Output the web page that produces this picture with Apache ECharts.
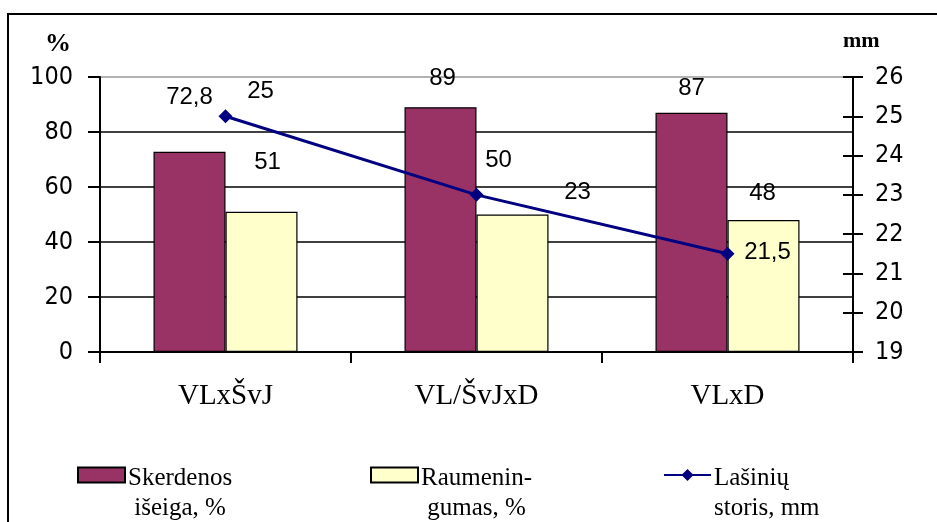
<!DOCTYPE html>
<html>
<head>
<meta charset="utf-8">
<script src="https://cdn.jsdelivr.net/npm/echarts@6/dist/echarts.min.js"></script>
<style>html,body{margin:0;padding:0;background:#fff;}#c{width:937px;height:522px;}</style>
</head>
<body>
<div id="c"></div>
<script>
const categories = ['VLxŠvJ', 'VL/ŠvJxD', 'VLxD'];
const skerdenos = [72.8, 89, 87];
const raumeningumas = [51, 50, 48];
const lasiniu = [25, 23, 21.5];
const seriesNames = ['Skerdenos\nišeiga, %', 'Raumenin-\ngumas, %', 'Lašinių\nstoris, mm'];
const leftTicks = { min: 0, max: 100, interval: 20 };
const rightTicks = { min: 19, max: 26, interval: 1 };

// label placement (pixel offsets), kept apart from data
const offSk = [[0, -37], [2, -12], [0, -7]];
const offRa = [[6, -32], [-14, -37], [-1, -10]];
const offLa = [[35, -25], [101, -2], [40, -1]];

const fmt = v => String(v).replace('.', ',');
const labelFont = { fontFamily: 'Liberation Sans, Arial, sans-serif', fontSize: 24, color: '#000' };
const axisFont = { fontFamily: 'DejaVu Sans Condensed, DejaVu Sans, sans-serif', fontSize: 25, color: '#000' };
const legendFont = { fontFamily: 'Liberation Serif, Times New Roman, serif', fontSize: 25, color: '#000', lineHeight: 30 };

const chart = echarts.init(document.getElementById('c'));
const gridColors = ['#000', '#000', '#000', '#000', '#000', '#999'];

const legendLeft = [72, 365, 658];
const legendCentered = [true, true, false];

chart.setOption({
  backgroundColor: '#fff',
  animation: false,
  grid: { left: 100, right: 84, top: 77, bottom: 170 },
  graphic: [
    { type: 'rect', shape: { x: 8, y: 14, width: 1000, height: 600 }, style: { fill: 'none', stroke: '#000', lineWidth: 2 } },
    { type: 'text', left: 45, top: 31, style: { text: '%', font: 'bold 26px "Liberation Serif", serif', fill: '#000' } },
    { type: 'text', left: 843, top: 30, style: { text: 'mm', font: 'bold 22px "Liberation Serif", serif', fill: '#000' } }
  ],
  legend: [0, 1, 2].map((i) => ({
    data: [{ name: seriesNames[i], icon: i < 2 ? 'rect' : undefined }],
    left: legendLeft[i],
    top: 422,
    itemWidth: 47,
    itemHeight: 15,
    selectedMode: false,
    formatter: legendCentered[i] ? (n => n.split('\n').map(s => '{c|' + s + '}').join('\n')) : (n => n),
    textStyle: Object.assign({
      padding: [36, 0, 0, -2],
      rich: { c: Object.assign({ align: 'center' }, legendFont) }
    }, legendFont)
  })),
  xAxis: {
    type: 'category',
    data: categories,
    axisLine: { lineStyle: { color: '#000', width: 2 } },
    axisTick: { show: true, length: 11, lineStyle: { color: '#000', width: 2 } },
    axisLabel: { margin: 30, fontFamily: 'Liberation Serif, Times New Roman, serif', fontSize: 29, color: '#000' },
    splitLine: { show: false }
  },
  yAxis: [
    {
      type: 'value', min: leftTicks.min, max: leftTicks.max, interval: leftTicks.interval, position: 'left',
      axisLine: { show: true, lineStyle: { color: '#000', width: 2 } },
      axisTick: { show: true, length: 12, lineStyle: { color: '#000', width: 2 } },
      axisLabel: Object.assign({ margin: 27 }, axisFont),
      splitLine: { show: true, lineStyle: { color: gridColors, width: 1.5 } }
    },
    {
      type: 'value', min: rightTicks.min, max: rightTicks.max, interval: rightTicks.interval, position: 'right',
      axisLine: { show: true, lineStyle: { color: '#000', width: 2 } },
      axisTick: { show: true, length: 10, lineStyle: { color: '#000', width: 2 } },
      axisLabel: Object.assign({ margin: 22 }, axisFont),
      splitLine: { show: false }
    },
    {
      type: 'value', min: rightTicks.min, max: rightTicks.max, interval: rightTicks.interval, position: 'right',
      axisLine: { show: false },
      axisTick: { show: true, inside: true, length: 10, lineStyle: { color: '#000', width: 2 } },
      axisLabel: { show: false },
      splitLine: { show: false }
    }
  ],
  series: [
    {
      name: seriesNames[0], type: 'bar', yAxisIndex: 0,
      barWidth: 72, barGap: '0%',
      itemStyle: { color: '#993366', borderColor: '#000', borderWidth: 1.2 },
      data: skerdenos.map((v, i) => ({ value: v, label: { show: true, position: 'top', distance: 5, offset: offSk[i], formatter: fmt(v), ...labelFont } }))
    },
    {
      name: seriesNames[1], type: 'bar', yAxisIndex: 0,
      barWidth: 72, barGap: '0%',
      itemStyle: { color: '#FFFFCC', borderColor: '#000', borderWidth: 1.2 },
      data: raumeningumas.map((v, i) => ({ value: v, label: { show: true, position: 'top', distance: 5, offset: offRa[i], formatter: fmt(v), ...labelFont } }))
    },
    {
      name: seriesNames[2], type: 'line', yAxisIndex: 1,
      symbol: 'diamond', symbolSize: 14,
      lineStyle: { color: '#000080', width: 3 },
      itemStyle: { color: '#000080' },
      z: 5,
      data: lasiniu.map((v, i) => ({ value: v, label: { show: true, position: 'inside', offset: offLa[i], formatter: fmt(v), ...labelFont } }))
    }
  ]
});
</script>
</body>
</html>
